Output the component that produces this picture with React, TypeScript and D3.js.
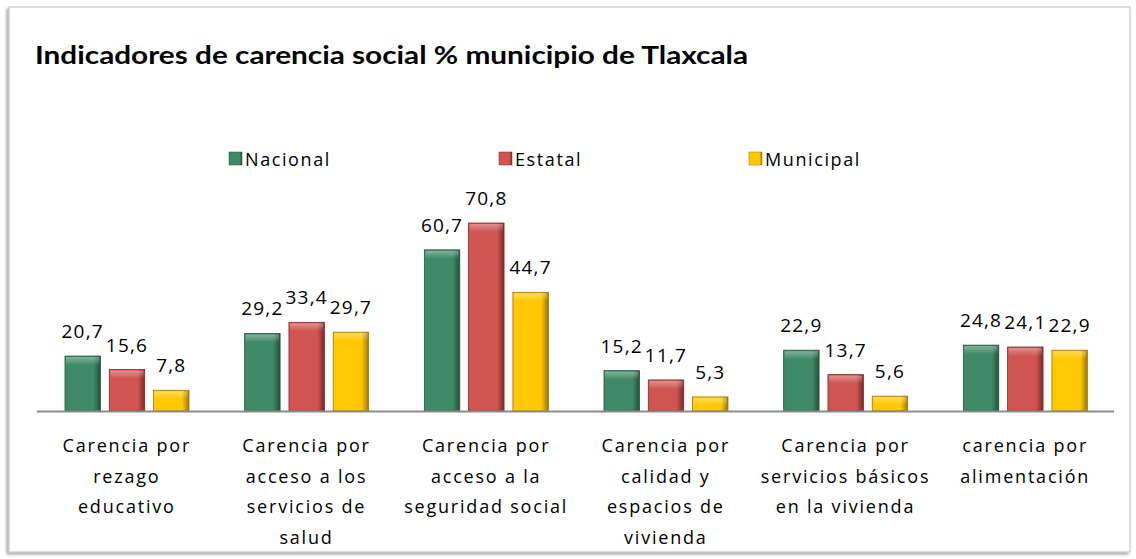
import { useMemo } from 'react';
import { scaleBand, scaleLinear } from 'd3';

const categories = [
  ['Carencia por', 'rezago', 'educativo'],
  ['Carencia por', 'acceso a los', 'servicios de', 'salud'],
  ['Carencia por', 'acceso a la', 'seguridad social'],
  ['Carencia por', 'calidad y', 'espacios de', 'vivienda'],
  ['Carencia por', 'servicios básicos', 'en la vivienda'],
  ['carencia por', 'alimentación'],
];
const series = ['Nacional', 'Estatal', 'Municipal'];
const nacional = [20.7, 29.2, 60.7, 15.2, 22.9, 24.8];
const estatal = [15.6, 33.4, 70.8, 11.7, 13.7, 24.1];
const municipal = [7.8, 29.7, 44.7, 5.3, 5.6, 22.9];
const values = [nacional, estatal, municipal];

const colors = {
  Nacional: { mid: '#3f8a66', edge: '#24513b' },
  Estatal: { mid: '#d05452', edge: '#7a2a29' },
  Municipal: { mid: '#ffc800', edge: '#9c7600' },
};

const fmt = (v: number) => v.toFixed(1).replace('.', ',');
const font = '"Open Sans", "DejaVu Sans", sans-serif';

export default function App() {
  const W = 1136;
  const H = 559;
  const baseY = 411;

  const x0 = useMemo(() => scaleBand<number>().domain(categories.map((_, i) => i)).range([37, 1115]), []);
  const x1 = useMemo(() => scaleBand<string>().domain(series).range([28, 152]).paddingInner(0.2), []);
  const y = useMemo(() => scaleLinear().domain([0, 80]).range([baseY, 198.6]), []);

  const legendX = [229, 499, 749];

  return (
    <svg width={W} height={H} style={{ position: 'absolute', left: 0, top: 0 }}>
      <defs>
        {series.map((s) => {
          const c = colors[s as keyof typeof colors];
          return (
            <g key={s}>
              <linearGradient id={`h-${s}`} x1="0" x2="1" y1="0" y2="0">
                <stop offset="0" stopColor={c.mid} />
                <stop offset="0.12" stopColor={c.mid} />
                <stop offset="0.8" stopColor={c.mid} />
                <stop offset="1" stopColor={c.edge} />
              </linearGradient>
              <linearGradient id={`v-${s}`} x1="0" x2="0" y1="0" y2="1">
                <stop offset="0" stopColor="#ffffff" stopOpacity="0.35" />
                <stop offset="1" stopColor="#ffffff" stopOpacity="0" />
              </linearGradient>
            </g>
          );
        })}
        <filter id="shadow" x="-5%" y="-5%" width="110%" height="110%">
          <feDropShadow dx="-2" dy="2" stdDeviation="1.5" floodColor="#000" floodOpacity="0.35" />
        </filter>
      </defs>

      <rect x={9} y={7} width={1121} height={545} fill="#fff" stroke="#bdbdbd" strokeWidth={1} filter="url(#shadow)" />

      <text x={35} y={64} fontFamily='Lato, "Open Sans", sans-serif' fontWeight={700} fontSize={25} fill="#000"
        textLength={713} lengthAdjust="spacingAndGlyphs">
        Indicadores de carencia social % municipio de Tlaxcala
      </text>

      {series.map((s, i) => (
        <g key={s} transform={`translate(${legendX[i]},0)`}>
          <rect x={0} y={152} width={13} height={13} fill={`url(#h-${s})`} stroke={colors[s as keyof typeof colors].edge} strokeWidth={0.5} />
          <text x={16} y={166} fontFamily={font} fontSize={18} letterSpacing={1.6} fill="#000">{s}</text>
        </g>
      ))}

      {categories.map((_, ci) => (
        <g key={ci} transform={`translate(${x0(ci)},0)`}>
          {series.map((s, si) => {
            const v = values[si][ci];
            const bx = x1(s)!;
            const bw = x1.bandwidth();
            const top = y(v);
            const c = colors[s as keyof typeof colors];
            return (
              <g key={s}>
                <rect x={bx} y={top} width={bw} height={baseY - top} fill={`url(#h-${s})`} stroke={c.edge} strokeWidth={0.8} />
                <rect x={bx + 1} y={top + 1} width={bw - 2} height={Math.min(8, baseY - top - 1)} fill={`url(#v-${s})`} />
                <text x={bx + bw / 2} y={top - 18} textAnchor="middle" fontFamily={font} fontSize={19} letterSpacing={1.2} fill="#000">
                  {fmt(v)}
                </text>
              </g>
            );
          })}
        </g>
      ))}

      <line x1={37} x2={1114} y1={baseY + 0.5} y2={baseY + 0.5} stroke="#8c8c8c" strokeWidth={2} />

      {categories.map((lines, ci) => (
        <text key={ci} textAnchor="middle" fontFamily={font} fontSize={18} letterSpacing={1.8} fill="#000">
          {lines.map((l, li) => (
            <tspan key={li} x={x0(ci)! + x0.bandwidth() / 2} y={452 + li * 30.5}>{l}</tspan>
          ))}
        </text>
      ))}
    </svg>
  );
}
